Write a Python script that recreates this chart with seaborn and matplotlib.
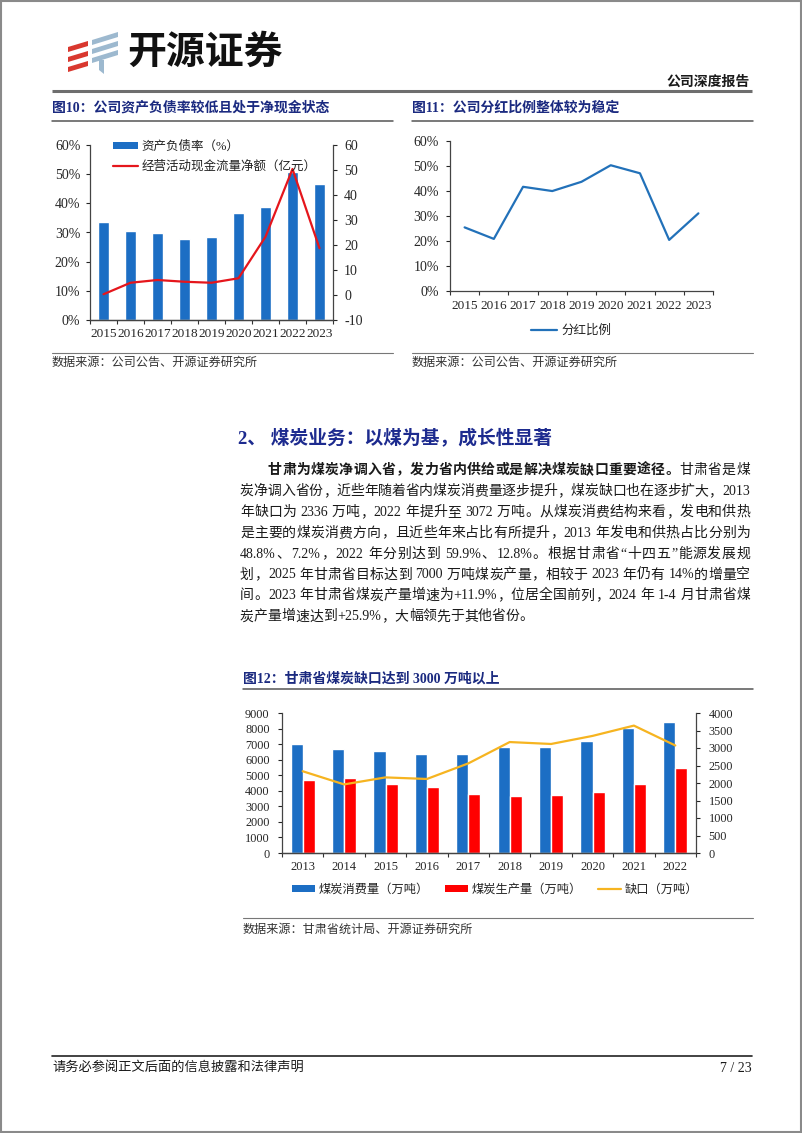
import re
import numpy as np
import pandas as pd
import matplotlib
matplotlib.use("Agg")
import matplotlib.pyplot as plt
from matplotlib.patches import Rectangle, Polygon, Patch
from matplotlib.lines import Line2D
from matplotlib.font_manager import FontProperties
import seaborn as sns

# ---- data ----
years_a = ['2015', '2016', '2017', '2018', '2019', '2020', '2021', '2022', '2023']
debt_ratio = [33.7, 30.5, 29.8, 27.9, 28.6, 36.8, 38.6, 50.8, 46.5]        # %
op_cashflow = [0.3, 4.9, 6.0, 5.3, 4.9, 6.7, 23.3, 50.4, 18.7]             # 亿元
payout_ratio = [25.4, 20.8, 41.6, 39.9, 43.6, 50.2, 47.0, 20.4, 31.0]      # %

years_b = ['2013', '2014', '2015', '2016', '2017', '2018', '2019', '2020', '2021', '2022']
coal_consumption = [7000, 6710, 6540, 6345, 6350, 6795, 6800, 7220, 8040, 8420]
coal_production = [4690, 4800, 4435, 4265, 3770, 3665, 3705, 3900, 4415, 5445]
coal_gap = [2336, 1960, 2160, 2115, 2560, 3170, 3115, 3345, 3640, 3072]

para_lines = [
    "甘肃为煤炭净调入省，发力省内供给或是解决煤炭缺口重要途径。甘肃省是煤",
    "炭净调入省份，近些年随着省内煤炭消费量逐步提升，煤炭缺口也在逐步扩大，2013",
    "年缺口为 2336 万吨，2022 年提升至 3072 万吨。从煤炭消费结构来看，发电和供热",
    "是主要的煤炭消费方向，且近些年来占比有所提升，2013 年发电和供热占比分别为",
    "48.8%、7.2%，2022 年分别达到 59.9%、12.8%。根据甘肃省“十四五”能源发展规",
    "划，2025 年甘肃省目标达到 7000 万吨煤炭产量，相较于 2023 年仍有 14%的增量空",
    "间。2023 年甘肃省煤炭产量增速为+11.9%，位居全国前列，2024 年 1-4 月甘肃省煤",
    "炭产量增速达到+25.9%，大幅领先于其他省份。",
]
bold_lead = "甘肃为煤炭净调入省，发力省内供给或是解决煤炭缺口重要途径。"

BLUE = '#1C6EC4'
RED = '#E5161C'
RED_BAR = '#FF0000'
ORANGE = '#F6B420'
LINE_BLUE = '#2271B9'
NAVY = '#1B2A80'
TXT = '#1a1a1a'

sns.set_style('ticks')
FAMS = ['Liberation Serif', 'Noto Sans CJK SC']
plt.rcParams['font.family'] = FAMS
plt.rcParams['axes.unicode_minus'] = False

W, H = 802, 1133
fig = plt.figure(figsize=(W / 100, H / 100), dpi=100)


def box(l, t, r, b):
    return [l / W, 1 - b / H, (r - l) / W, (b - t) / H]


# page layer in pixel coordinates
page = fig.add_axes([0, 0, 1, 1], zorder=0)
page.set_xlim(0, W)
page.set_ylim(H, 0)
page.axis('off')
page.add_patch(Rectangle((0.8, 0.8), W - 1.6, H - 1.6, fill=False, ec='#8a8a8a', lw=1.5))

# logo
for yy in [42, 52, 62]:
    page.add_patch(Polygon([[68, yy + 5], [88, yy - 1], [88, yy + 4], [68, yy + 10]],
                           closed=True, fc='#D9382F', ec='none'))
for yy in [35, 44, 53]:
    page.add_patch(Polygon([[92, yy + 5], [118, yy - 3], [118, yy + 2], [92, yy + 10]],
                           closed=True, fc='#9DB9CF', ec='none'))
page.add_patch(Polygon([[99, 60], [104, 60], [104, 74], [99, 70]], closed=True, fc='#9DB9CF', ec='none'))
page.text(205, 52, '开源证券', fontsize=28, fontweight='bold', family=['Noto Sans CJK SC'],
          ha='center', va='center', color='#111')
page.text(750, 82, '公司深度报告', fontsize=10, fontweight='bold', ha='right', va='center', color=TXT)
page.plot([52, 752], [90.5, 90.5], color='#6e6e6e', lw=2.2, solid_capstyle='butt')

# figure titles, rules and sources
page.text(52, 108, '图10：公司资产负债率较低且处于净现金状态', fontsize=10, fontweight='bold',
          color=NAVY, va='center')
page.text(412, 108, '图11：公司分红比例整体较为稳定', fontsize=10, fontweight='bold',
          color=NAVY, va='center')
page.plot([52, 393], [121, 121], color='#555', lw=1.1)
page.plot([412, 753], [121, 121], color='#555', lw=1.1)
page.plot([52, 393], [353, 353], color='#777', lw=0.8)
page.plot([412, 753], [353, 353], color='#777', lw=0.8)
page.text(52, 363, '数据来源：公司公告、开源证券研究所', fontsize=8.7, color='#333', va='center')
page.text(412, 363, '数据来源：公司公告、开源证券研究所', fontsize=8.7, color='#333', va='center')

page.text(243, 679, '图12：甘肃省煤炭缺口达到 3000 万吨以上', fontsize=10, fontweight='bold',
          color=NAVY, va='center')
page.plot([243, 753], [689, 689], color='#555', lw=1.1)
page.plot([243, 753], [918, 918], color='#777', lw=0.8)
page.text(243, 930, '数据来源：甘肃省统计局、开源证券研究所', fontsize=8.7, color='#333', va='center')

# section heading
page.text(238, 438, '2、 煤炭业务：以煤为基，成长性显著', fontsize=13.5, fontweight='bold',
          color='#1D2B8F', va='center')

# justified paragraph
renderer = fig.canvas.get_renderer()


def tokens_of(s):
    return re.findall(r'[A-Za-z0-9.%+\-]+|\s+|.', s)


def draw_para_line(text, x0, x1, y, justify, bold_chars=0):
    toks = tokens_of(text)
    props, widths = [], []
    pos = 0
    for t in toks:
        weight = 'bold' if pos < bold_chars else 'normal'
        pos += len(t)
        fp = FontProperties(family=FAMS, size=10, weight=weight)
        w, h, d = renderer.get_text_width_height_descent(t, fp, ismath=False)
        props.append(fp)
        widths.append(w)
    extra = 0
    if justify and len(toks) > 1:
        extra = (x1 - x0 - sum(widths)) / (len(toks) - 1)
    x = x0
    for t, fp, w in zip(toks, props, widths):
        if not t.isspace():
            page.text(x, y + 5, t, fontproperties=fp, va='baseline', ha='left', color=TXT)
        x += w + extra


line_y = [469.0, 489.9, 510.8, 531.7, 552.6, 573.5, 594.4, 615.3]
for i, ln in enumerate(para_lines):
    x0 = 268 if i == 0 else 240
    draw_para_line(ln, x0, 750, line_y[i], justify=(i < len(para_lines) - 1),
                   bold_chars=len(bold_lead) if i == 0 else 0)

# footer
page.plot([52, 752], [1056, 1056], color='#222', lw=1.2)
page.text(52, 1068, '请务必参阅正文后面的信息披露和法律声明', fontsize=9.5, color=TXT, va='center')
page.text(752, 1068, '7 / 23', fontsize=10, color=TXT, va='center', ha='right')


def style_cat_x(ax, n, pad):
    ax.set_xlim(-0.5, n - 0.5)
    ax.set_xticks(np.arange(-0.5, n, 1), minor=True)
    ax.tick_params(axis='x', which='major', length=0, pad=pad)
    ax.tick_params(axis='x', which='minor', length=3, width=0.8, direction='out', color='#333')


# ---- chart 1: debt ratio bars + operating cash flow line ----
ax1 = fig.add_axes(box(90, 145, 333, 320), zorder=2)
ax1.patch.set_alpha(0)
sns.barplot(x=years_a, y=debt_ratio, color=BLUE, saturation=1, width=0.38, ax=ax1)
ax1.set_ylim(0, 60)
ax1.set_yticks(np.arange(0, 61, 10))
ax1.set_yticklabels([f'{v}%' for v in range(0, 61, 10)])
ax1.set_xlabel('')
ax1.set_ylabel('')
ax1b = ax1.twinx()
sns.lineplot(x=np.arange(len(years_a)), y=op_cashflow, color=RED, lw=1.6, ax=ax1b)
ax1b.set_ylim(-10, 60)
ax1b.set_yticks(np.arange(-10, 61, 10))
ax1b.set_ylabel('')
style_cat_x(ax1, len(years_a), 6)
ax1.tick_params(axis='x', labelsize=9.5)
ax1.tick_params(axis='y', length=3, direction='out', pad=4, labelsize=10)
ax1b.tick_params(axis='y', length=3, direction='out', pad=5, labelsize=10)
ax1.spines['top'].set_visible(False)
ax1.spines['right'].set_visible(False)
ax1b.spines['top'].set_visible(False)
ax1b.spines['left'].set_visible(False)
for a in (ax1, ax1b):
    for s in a.spines.values():
        s.set_color('#444')
        s.set_linewidth(0.9)

fig.legend([Patch(fc=BLUE, ec='none'), Line2D([], [], color=RED, lw=1.6)],
           ['资产负债率（%）', '经营活动现金流量净额（亿元）'],
           loc='upper left', bbox_to_anchor=(113 / W, 1 - 141 / H), frameon=False,
           fontsize=9, handlelength=2.0, handleheight=0.45, handletextpad=0.3,
           labelspacing=0.6, borderpad=0, borderaxespad=0, labelcolor='#222')

# ---- chart 2: payout ratio line ----
ax2 = fig.add_axes(box(450, 140.7, 713, 291), zorder=2)
ax2.patch.set_alpha(0)
sns.lineplot(x=np.arange(len(years_a)), y=payout_ratio, color=LINE_BLUE, lw=1.6, ax=ax2)
ax2.set_ylim(0, 60)
ax2.set_yticks(np.arange(0, 61, 10))
ax2.set_yticklabels([f'{v}%' for v in range(0, 61, 10)])
ax2.set_xticks(np.arange(len(years_a)))
ax2.set_xticklabels(years_a)
style_cat_x(ax2, len(years_a), 6.5)
ax2.tick_params(axis='x', labelsize=9.5)
ax2.tick_params(axis='y', length=3, direction='out', pad=5, labelsize=10)
ax2.set_xlabel('')
ax2.set_ylabel('')
sns.despine(ax=ax2)
for s in ax2.spines.values():
    s.set_color('#444')
    s.set_linewidth(0.9)
fig.legend([Line2D([], [], color=LINE_BLUE, lw=1.6)], ['分红比例'],
           loc='center left', bbox_to_anchor=(531 / W, 1 - 331 / H), frameon=False,
           fontsize=9, handlelength=2.1, handletextpad=0.3, borderpad=0, borderaxespad=0,
           labelcolor='#222')

# ---- chart 3: Gansu coal consumption / production / gap ----
df_coal = pd.DataFrame({
    'year': years_b * 2,
    'value': coal_consumption + coal_production,
    'series': ['煤炭消费量（万吨）'] * len(years_b) + ['煤炭生产量（万吨）'] * len(years_b),
})
ax3 = fig.add_axes(box(282, 713, 696, 853), zorder=2)
ax3.patch.set_alpha(0)
sns.barplot(data=df_coal, x='year', y='value', hue='series', palette=[BLUE, RED_BAR],
            saturation=1, width=0.58, legend=False, ax=ax3)
ax3.set_ylim(0, 9000)
ax3.set_yticks(np.arange(0, 9001, 1000))
ax3.set_xlabel('')
ax3.set_ylabel('')
ax3b = ax3.twinx()
sns.lineplot(x=np.arange(len(years_b)), y=coal_gap, color=ORANGE, lw=1.6, ax=ax3b)
ax3b.set_ylim(0, 4000)
ax3b.set_yticks(np.arange(0, 4001, 500))
ax3b.set_ylabel('')
style_cat_x(ax3, len(years_b), 6)
ax3.tick_params(axis='x', labelsize=9)
ax3.tick_params(axis='y', length=3, direction='out', pad=6, labelsize=8.8)
ax3b.tick_params(axis='y', length=3, direction='out', pad=6, labelsize=8.8)
ax3.spines['top'].set_visible(False)
ax3.spines['right'].set_visible(False)
ax3b.spines['top'].set_visible(False)
ax3b.spines['left'].set_visible(False)
for a in (ax3, ax3b):
    for s in a.spines.values():
        s.set_color('#444')
        s.set_linewidth(0.9)

fig.legend([Patch(fc=BLUE, ec='none'), Patch(fc=RED_BAR, ec='none'),
            Line2D([], [], color=ORANGE, lw=1.6)],
           ['煤炭消费量（万吨）', '煤炭生产量（万吨）', '缺口（万吨）'],
           loc='center left', bbox_to_anchor=(292 / W, 1 - 890 / H), frameon=False, ncol=3,
           fontsize=8.8, handlelength=1.9, handleheight=0.45, handletextpad=0.3,
           columnspacing=1.3, borderpad=0, borderaxespad=0, labelcolor='#222')

fig.savefig('out.png', dpi=100)
